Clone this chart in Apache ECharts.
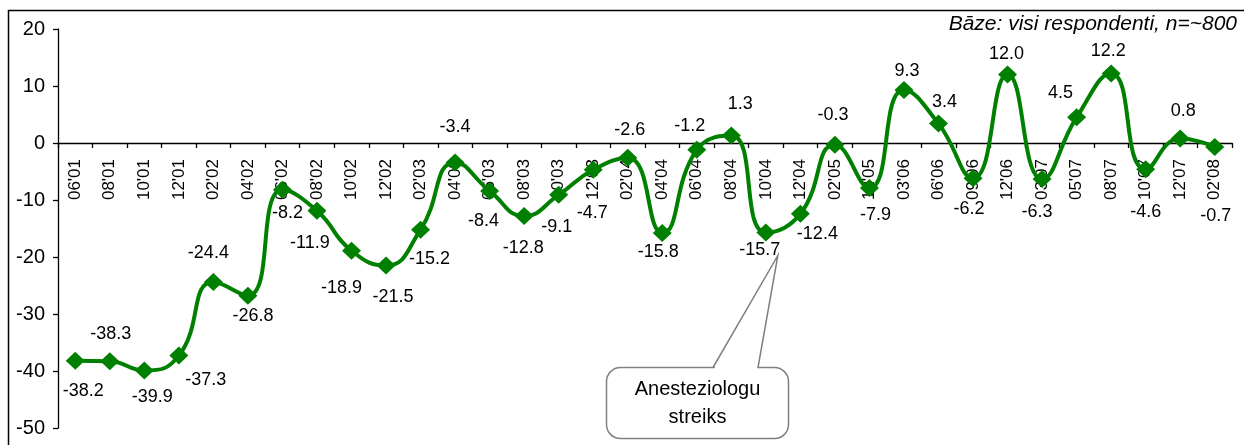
<!DOCTYPE html>
<html>
<head>
<meta charset="utf-8">
<script src="https://cdn.jsdelivr.net/npm/echarts@6/dist/echarts.min.js"></script>
<style>
html,body{margin:0;padding:0;background:#fff;}
#c{width:1244px;height:445px;}
</style>
</head>
<body>
<div id="c"></div>
<script>
const categories = ["06'01","08'01","10'01","12'01","02'02","04'02","06'02","08'02","10'02","12'02",
  "02'03","04'03","06'03","08'03","10'03","12'03","02'04","04'04","06'04","08'04",
  "10'04","12'04","02'05","12'05","03'06","06'06","09'06","12'06","03'07","05'07",
  "08'07","10'07","12'07","02'08"];
const values = [-38.2,-38.3,-39.9,-37.3,-24.4,-26.8,-8.2,-11.9,-18.9,-21.5,
  -15.2,-3.4,-8.4,-12.8,-9.1,-4.7,-2.6,-15.8,-1.2,1.3,
  -15.7,-12.4,-0.3,-7.9,9.3,3.4,-6.2,12.0,-6.3,4.5,
  12.2,-4.6,0.8,-0.7];
const yMin = -50, yMax = 20, yStep = 10;
const titleText = "Bāze: visi respondenti, n=~800";
const calloutText = "Anesteziologu\nstreiks";
const calloutIndex = 20;

// label placement (styling only): offset of each value label from its marker
const labelOffsets = [[8,30],[1,-27],[8,27],[27,24],[-5,-29],[5,20],[5,23],[-7,32],[-10,37],[7,31],
  [9,29],[0,-35],[-6,30],[-1,32],[-2,32],[-1,43],[2,-28],[-4,19],[-7,-24],[9,-32],
  [-6,18],[17,20],[-2,-30],[6,27],[3,-19],[6,-22],[-4,31],[-1,-21],[-5,33],[-16,-24],
  [-3,-22],[0,43],[3,-27],[1,69]];

const FONT = "'Liberation Sans', Arial, sans-serif";
const W = 1244, H = 445;
const G = {left:58, right:12, top:29, bottom:17};
const gridH = H - G.top - G.bottom;
// move the category axis (line, ticks and labels together) up to the zero line
const zeroOffset = -gridH * (0 - yMin) / (yMax - yMin);

const chart = echarts.init(document.getElementById('c'), null, {renderer:'canvas'});
chart.setOption({
  animation:false,
  backgroundColor:'#fff',
  title:{text:titleText, right:7, top:14, padding:0,
    textStyle:{fontFamily:FONT, fontSize:21, fontStyle:'italic', fontWeight:'normal', color:'#000'}},
  grid:Object.assign({containLabel:false, outerBoundsMode:'none'}, G),
  xAxis:{type:'category', data:categories, boundaryGap:true, position:'bottom', offset:zeroOffset,
    axisLine:{onZero:false, lineStyle:{color:'#000', width:1.3}},
    axisTick:{show:true, length:5, inside:false, lineStyle:{color:'#000', width:1.3}},
    axisLabel:{rotate:90, margin:16, color:'#000', fontFamily:FONT, fontSize:17, interval:0},
    splitLine:{show:false}},
  yAxis:{type:'value', min:yMin, max:yMax, interval:yStep,
    axisLine:{show:true, lineStyle:{color:'#000', width:1.3}},
    axisTick:{show:true, length:5, lineStyle:{color:'#000', width:1.3}},
    axisLabel:{margin:13, color:'#000', fontFamily:FONT, fontSize:20},
    splitLine:{show:false}},
  series:[{
    type:'line', smooth:0.5,
    data: values,
    lineStyle:{color:'#008000', width:4},
    itemStyle:{color:'#008000'},
    symbol:'diamond', symbolSize:[19,18],
    label:{show:true, position:'inside', align:'center', verticalAlign:'middle',
      color:'#000', fontFamily:FONT, fontSize:18,
      formatter:p=>p.value.toFixed(1)},
    labelLayout:function(params){
      const o = labelOffsets[params.dataIndex];
      return {dx:o[0], dy:o[1], hideOverlap:false, moveOverlap:false};
    },
    z:3
  }]
});

const p = chart.convertToPixel({xAxisIndex:0, yAxisIndex:0}, [calloutIndex, values[calloutIndex]]);
const tip = [p[0]+12, p[1]+23];
const bx = 606.5, by = 367.5, bw = 182, bh = 71;
chart.setOption({
  graphic:[
    {type:'rect', shape:{x:8.5, y:10.5, width:1240, height:440}, style:{fill:'none', stroke:'#000', lineWidth:1.5}, silent:true, z:10},
    {type:'rect', shape:{x:bx, y:by, width:bw, height:bh, r:14}, style:{fill:'#fff', stroke:'#808080', lineWidth:1.5}, z:20},
    {type:'polygon', shape:{points:[[714,by+1.5],tip,[757,by+1.5]]}, style:{fill:'#fff'}, z:21},
    {type:'polyline', shape:{points:[[713,by],tip,[758,by]]}, style:{fill:'none', stroke:'#808080', lineWidth:1.5}, z:22},
    {type:'text', x:bx+bw/2, y:by+bh/2, z:23,
      style:{text:calloutText, align:'center', verticalAlign:'middle', fontFamily:FONT, fontSize:20, lineHeight:28, fill:'#000'}}
  ]
});
</script>
</body>
</html>
